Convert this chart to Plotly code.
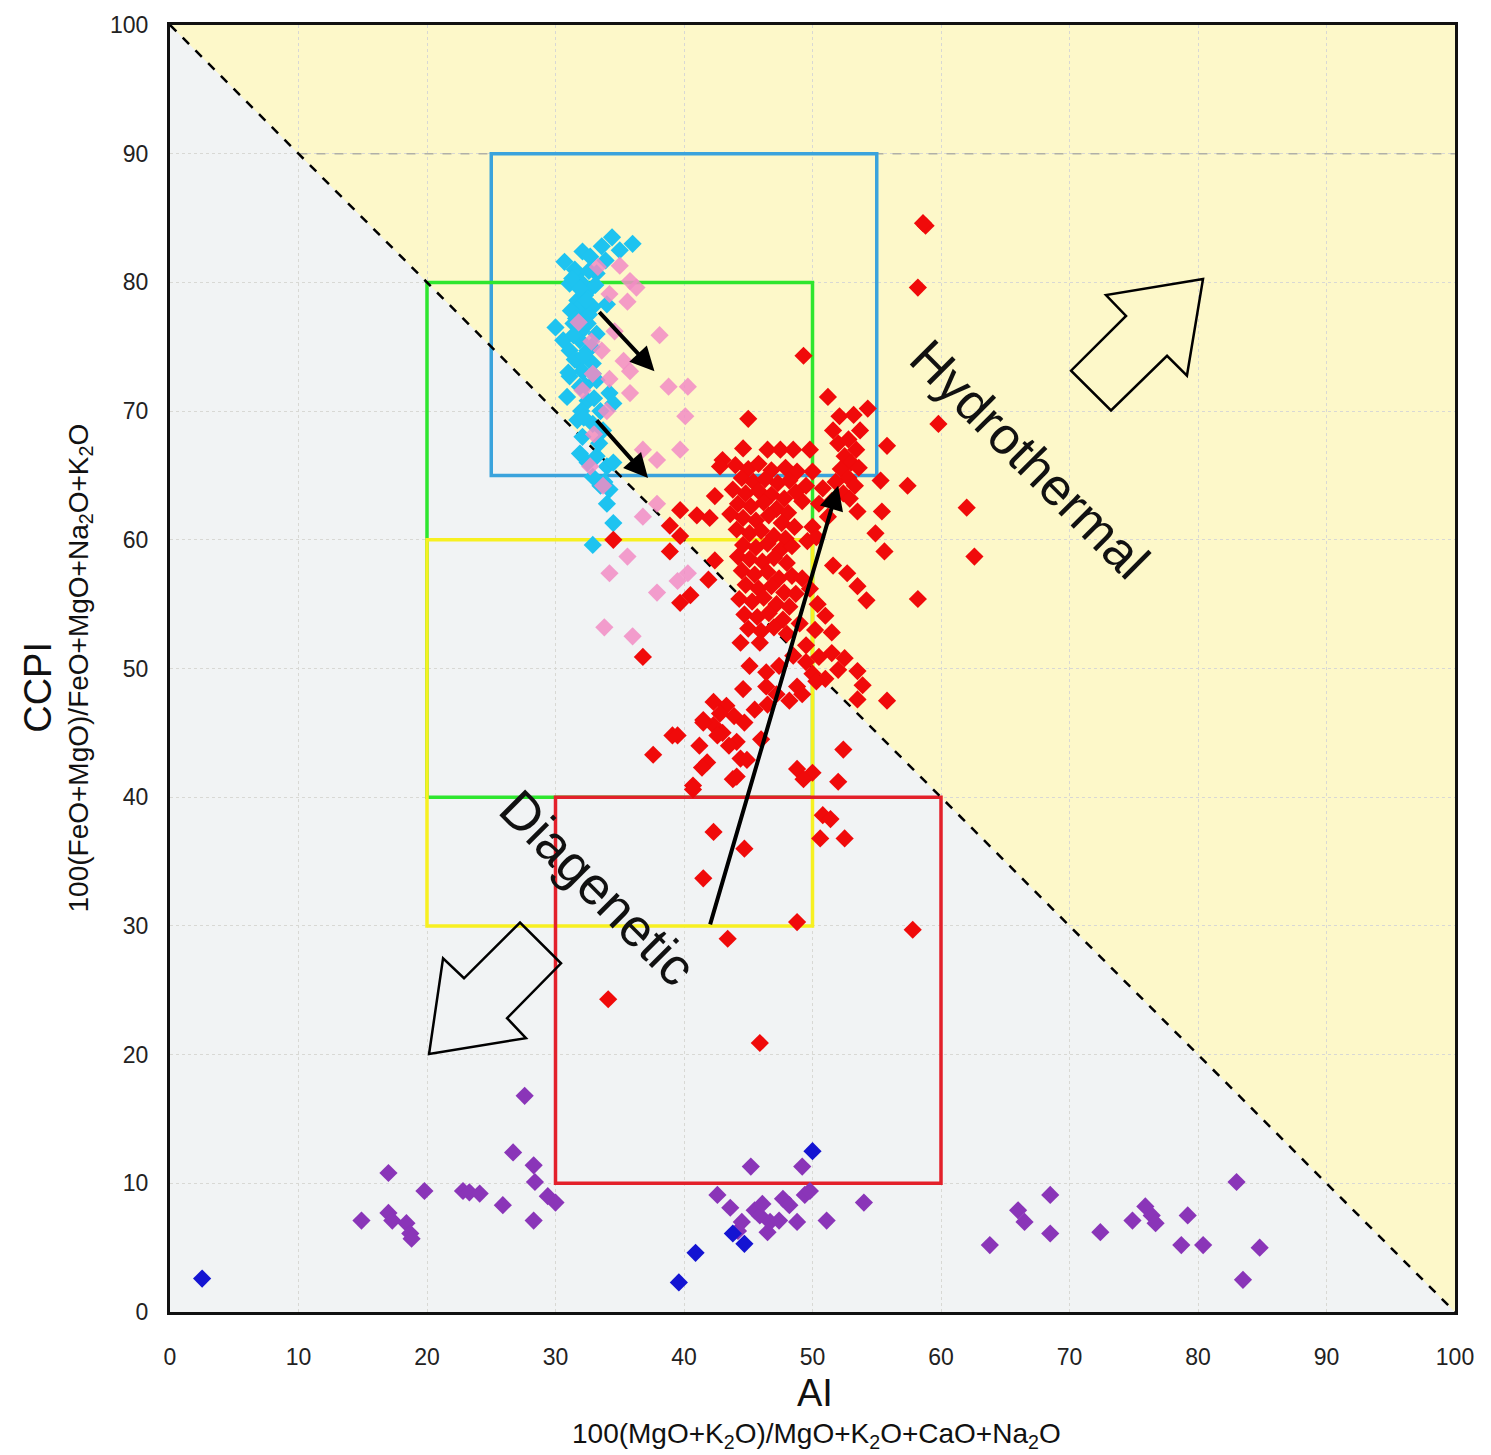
import plotly.graph_objects as go

# ---------------- data ----------------
red_x = [58.8,58.6,58.2,49.3,51.2,54.3,52.1,53.2,45.0,59.8,51.6,53.7,55.8,44.6,43.0,42.8,46.5,47.5,48.5,49.8,55.3,57.4,42.4,39.7,41.0,38.9,39.7,42.0,34.5,38.9,42.4,53.5,55.4,54.9,55.6,62.0,62.6,58.2,51.6,52.7,53.5,54.2,41.9,39.7,36.8,40.5,
         52.0,52.8,53.4,52.5,53.0,52.2,53.6,52.8,51.8,53.3,52.4,51.5,52.9,50.8,50.5,51.2,50.0,49.5,49.2,50.0,49.6,50.3,
         44.0,45.0,45.8,46.8,47.9,48.8,44.5,45.4,46.3,47.3,48.2,43.8,44.8,45.8,46.8,47.8,48.7,44.2,45.2,46.2,47.2,48.1,43.6,44.6,45.6,46.6,47.6,48.6,44.1,45.1,46.0,47.0,47.9,44.6,45.6,46.5,47.5,48.4,44.2,45.1,46.1,47.0,48.0,
         44.5,45.5,46.5,47.4,48.4,44.8,45.8,46.8,47.8,44.3,45.3,46.2,47.2,48.2,44.7,45.7,46.6,47.7,45.0,46.0,47.0,48.0,44.4,45.9,49.0,48.7,49.2,49.8,50.4,51.0,50.2,51.5,49.5,
         48.5,49.5,50.5,51.5,52.5,53.5,50.0,51.0,52.0,53.9,48.8,45.1,46.4,47.4,46.4,47.2,48.2,49.2,50.3,53.5,55.8,
         42.3,43.3,44.6,41.5,42.3,39.1,37.6,43.0,44.1,41.2,41.8,44.4,48.8,50.0,52.4,40.7,43.8,39.5,41.5,41.4,42.8,43.9,44.7,42.6,43.5,44.9,44.1,40.7,46.0,49.3,52.0,45.5,46.5,
         50.8,51.4,50.6,52.5,42.3,44.7,41.5,48.8,43.4,57.8,34.1,45.9]
red_y = [84.4,84.6,79.6,74.3,71.1,70.2,69.6,69.7,69.4,69.0,68.5,68.5,67.3,67.1,66.2,65.7,67.0,67.0,67.0,67.0,64.6,64.2,63.4,62.3,61.9,61.1,60.3,61.7,60.0,59.1,58.4,62.2,62.2,60.5,59.1,62.5,58.7,55.4,58.0,57.4,56.4,55.3,56.9,55.1,50.9,55.7,
         67.5,67.8,67.0,66.5,66.0,65.5,65.6,64.8,64.5,64.2,63.6,63.0,63.2,64.0,62.8,61.8,65.3,64.2,63.0,61.0,59.9,60.2,
         65.8,65.5,65.9,65.4,65.6,65.3,64.8,64.5,64.7,64.4,64.6,63.9,63.6,63.8,63.5,63.2,63.7,62.8,62.6,62.9,62.4,62.1,62.0,61.7,61.5,61.9,61.3,61.0,60.8,60.5,60.7,60.3,60.1,59.6,59.4,59.7,59.2,59.5,58.7,58.5,58.3,58.6,58.2,
         57.6,57.3,57.5,57.0,57.2,56.5,56.2,56.4,55.9,55.4,55.2,55.5,55.0,54.8,54.2,54.0,54.3,53.8,53.1,52.9,53.2,52.7,52.0,52.0,53.5,55.8,57.0,56.2,55.0,54.1,53.0,52.8,51.8,
         51.0,50.5,50.9,51.2,50.8,49.8,49.6,49.2,49.9,48.7,48.6,50.2,49.7,50.2,48.6,48.0,47.5,48.0,49.0,47.6,47.5,
         47.4,47.1,48.4,46.0,45.6,44.8,43.3,45.0,44.3,44.0,42.7,43.0,42.2,41.9,43.7,40.9,41.4,44.8,45.8,42.3,46.5,46.3,45.8,44.8,44.0,42.9,41.6,40.6,44.5,41.4,41.2,46.8,47.2,
         38.6,38.3,36.8,36.8,37.3,36.0,33.7,30.3,29.0,29.7,24.3,20.9]

cyan_x = [34.4,36.0,32.1,30.7,32.7,33.9,31.7,33.2,31.1,32.5,31.7,32.9,34.0,30.0,31.4,32.5,30.6,31.9,33.2,31.1,32.5,31.7,32.9,32.1,31.1,33.2,31.9,30.9,34.2,32.5,34.5,31.7,33.5,32.9,32.1,33.7,31.9,33.2,34.0,32.9,33.5,34.2,34.0,34.5,32.9,
          31.5,32.0,32.3,31.8,32.6,31.2,32.0,32.8,31.5,32.3,33.0,32.0,33.4,32.5,33.8,34.5,31.0,32.2,33.6,35.0,
          31.3,32.6,31.9,32.4,31.6,33.1,32.2,31.4,32.9]
cyan_y = [83.5,83.0,82.4,81.6,82.0,81.7,80.7,80.7,79.9,79.3,78.6,78.1,78.3,76.5,76.8,76.8,75.5,75.5,76.0,74.7,74.7,73.9,73.7,73.1,72.7,72.4,71.9,71.1,71.4,70.8,70.6,69.3,70.0,69.0,68.0,68.5,66.7,66.5,65.7,64.9,64.2,63.9,62.8,61.3,59.6,
          81.0,80.0,79.0,78.0,77.5,77.8,76.2,75.0,74.0,72.0,71.0,70.0,67.5,66.0,64.5,66.0,73.0,69.5,82.8,82.5,
          80.3,80.9,79.5,78.6,77.2,79.8,74.3,75.9,72.9]

pink_x = [33.3,35.0,35.8,36.3,34.2,35.6,31.8,38.1,32.8,33.6,35.3,35.8,32.9,34.2,38.8,40.3,32.1,35.8,40.1,34.0,36.8,39.7,37.9,32.7,33.7,37.9,36.8,35.6,34.2,37.9,39.5,40.3,33.8,36.0,33.0,34.6]
pink_y = [81.2,81.3,80.1,79.6,79.1,78.5,76.9,75.9,75.4,74.7,73.9,73.1,72.9,72.5,71.9,71.9,71.6,71.4,69.6,70.0,67.0,67.0,66.2,65.7,64.2,62.8,61.8,58.7,57.4,55.9,56.8,57.4,53.2,52.5,68.2,76.2]

purple_x = [14.9,17.0,17.0,17.3,18.4,18.7,18.8,19.8,22.8,23.3,24.1,25.9,26.7,27.6,28.3,28.4,28.3,29.4,30.0,
            42.6,43.6,44.2,44.5,45.2,45.5,45.9,46.1,46.5,46.7,47.4,47.7,48.2,48.8,49.2,49.4,49.8,51.1,54.0,
            63.8,66.0,66.5,68.5,68.5,72.4,74.9,75.9,76.4,76.7,78.7,79.2,80.4,83.0,83.5,84.8]
purple_y = [7.1,10.8,7.7,7.1,6.9,6.1,5.7,9.4,9.4,9.3,9.2,8.3,12.4,16.8,11.4,10.1,7.1,9.0,8.5,
            9.1,8.1,6.3,7.0,11.3,7.9,7.5,8.4,6.2,7.0,7.1,8.8,8.3,7.0,11.3,9.1,9.4,7.1,8.5,
            5.2,7.9,7.0,9.1,6.1,6.2,7.1,8.2,7.5,6.9,5.2,7.5,5.2,10.1,2.5,5.0]

blue_x = [2.5,39.6,40.9,43.8,44.7,50.0]
blue_y = [2.6,2.3,4.6,6.1,5.3,12.5]

# field boxes: (x0, x1, y0, y1, colour)
box_x0 = [25, 20, 20, 30]
box_x1 = [55, 50, 50, 60]
box_y0 = [65, 40, 30, 10]
box_y1 = [90, 80, 60, 40]
box_col = ["#3aa3dc", "#2ee62e", "#f7f020", "#e3202a"]

# trend arrows (tail x, tail y, head x, head y)
arr_x0 = [33.3, 33.1, 42.0]
arr_y0 = [77.8, 69.4, 30.0]
arr_x1 = [37.7, 37.2, 52.0]
arr_y1 = [73.1, 64.8, 64.2]

# open block arrows (polygon vertices)
hyd_arrow_x = [80.39, 72.84, 74.40, 70.12, 73.23, 77.59, 79.14]
hyd_arrow_y = [80.26, 79.02, 77.40, 73.14, 70.05, 74.30, 72.76]
dia_arrow_x = [20.16, 21.25, 22.88, 27.24, 30.43, 26.23, 27.70]
dia_arrow_y = [20.05, 27.48, 25.93, 30.26, 27.09, 22.83, 21.28]

tick_vals = list(range(0, 101, 10))

# ---------------- figure ----------------
fig = go.Figure()

def add_pts(xs, ys, col, op=1.0):
    fig.add_trace(go.Scatter(x=xs, y=ys, mode="markers",
                             marker=dict(symbol="diamond", size=14, color=col, opacity=op,
                                         line=dict(width=0)),
                             showlegend=False, hoverinfo="x+y"))

add_pts(purple_x, purple_y, "#8a35b8")
add_pts(blue_x, blue_y, "#1414d2")
add_pts(cyan_x, cyan_y, "#1ec3f0")
add_pts(pink_x, pink_y, "#f28cc4", 0.85)
add_pts(red_x, red_y, "#f00a0a")

shapes = []
# backgrounds
shapes.append(dict(type="path", xref="x", yref="y", path="M 0 100 L 100 100 L 100 0 Z",
                   fillcolor="#fdf8c9", line=dict(width=0), layer="below"))
# highlighted 90 line
shapes.append(dict(type="line", xref="x", yref="y", x0=10, x1=100, y0=90, y1=90,
                   line=dict(color="#b0b0a8", width=1.5, dash="dash"), layer="between"))
# boxes
for x0, x1, y0, y1, c in zip(box_x0, box_x1, box_y0, box_y1, box_col):
    shapes.append(dict(type="rect", xref="x", yref="y", x0=x0, x1=x1, y0=y0, y1=y1,
                       line=dict(color=c, width=3.5), fillcolor="rgba(0,0,0,0)", layer="between"))
# diagonal
shapes.append(dict(type="line", xref="x", yref="y", x0=0, y0=100, x1=100, y1=0,
                   line=dict(color="black", width=2.5, dash="dash"), layer="between"))

def poly(xs, ys):
    p = "M " + " L ".join(f"{a} {b}" for a, b in zip(xs, ys)) + " Z"
    return dict(type="path", xref="x", yref="y", path=p, fillcolor="rgba(0,0,0,0)",
                line=dict(color="black", width=2.5), layer="above")

shapes.append(poly(hyd_arrow_x, hyd_arrow_y))
shapes.append(poly(dia_arrow_x, dia_arrow_y))

annotations = []
for x0, y0, x1, y1 in zip(arr_x0, arr_y0, arr_x1, arr_y1):
    annotations.append(dict(x=x1, y=y1, ax=x0, ay=y0, xref="x", yref="y", axref="x", ayref="y",
                            text="", showarrow=True, arrowhead=2, arrowsize=1.2, arrowwidth=4,
                            arrowcolor="black"))

annotations.append(dict(x=66.9, y=66.3, xref="x", yref="y", text="Hydrothermal", showarrow=False,
                        textangle=45, xanchor="center", yanchor="middle",
                        font=dict(family="Liberation Sans, Arial", size=52, color="#111")))
annotations.append(dict(x=33.3, y=33.0, xref="x", yref="y", text="Diagenetic", showarrow=False,
                        textangle=45, xanchor="center", yanchor="middle",
                        font=dict(family="Liberation Sans, Arial", size=53, color="#111")))

# axis titles
annotations.append(dict(x=50.2, y=0, xref="x", yref="paper", yshift=-81, text="AI", showarrow=False,
                        xanchor="center", yanchor="middle",
                        font=dict(family="Liberation Sans, Arial", size=38, color="#111")))
annotations.append(dict(x=50.3, y=0, xref="x", yref="paper", yshift=-123,
                        text="100(MgO+K<sub>2</sub>O)/MgO+K<sub>2</sub>O+CaO+Na<sub>2</sub>O",
                        showarrow=False, xanchor="center", yanchor="middle",
                        font=dict(family="Liberation Sans, Arial", size=28, color="#111")))
annotations.append(dict(x=0, y=48.5, xref="paper", yref="y", xshift=-132, text="CCPI", showarrow=False,
                        textangle=-90, xanchor="center", yanchor="middle",
                        font=dict(family="Liberation Sans, Arial", size=38, color="#111")))
annotations.append(dict(x=0, y=50.0, xref="paper", yref="y", xshift=-90,
                        text="100(FeO+MgO)/FeO+MgO+Na<sub>2</sub>O+K<sub>2</sub>O",
                        showarrow=False, textangle=-90, xanchor="center", yanchor="middle",
                        font=dict(family="Liberation Sans, Arial", size=28, color="#111")))

axis_common = dict(range=[0, 100], tickvals=tick_vals, showgrid=True, gridcolor="#d8d8d4",
                   griddash="dot", gridwidth=1.2, zeroline=False, showline=True, mirror=True,
                   linecolor="#111", linewidth=3, ticks="",
                   tickfont=dict(family="Liberation Sans, Arial", size=23, color="#222"))

fig.update_layout(
    width=1491, height=1455, autosize=False,
    margin=dict(l=170, r=36, t=20, b=143),
    paper_bgcolor="white", plot_bgcolor="#f1f3f4",
    xaxis=dict(**axis_common, ticklabelstandoff=22),
    yaxis=dict(**axis_common, ticklabelstandoff=14),
    shapes=shapes, annotations=annotations, showlegend=False,
)

fig.write_html("out.html")
